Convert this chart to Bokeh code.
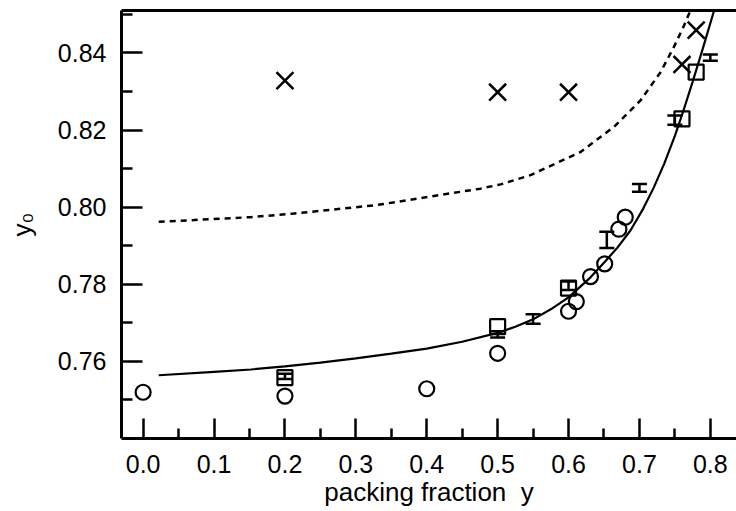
from bokeh.plotting import figure
from bokeh.models import (ColumnDataSource, FixedTicker, LinearAxis, Range1d,
                          Whisker, TeeHead, PrintfTickFormatter)
from bokeh.embed import file_html
from bokeh.resources import INLINE

# ---- data ----
circle_x = [0.0, 0.2, 0.4, 0.5, 0.6, 0.611, 0.631, 0.651, 0.671, 0.680]
circle_y = [0.7520, 0.7510, 0.7529, 0.7621, 0.7730, 0.7755, 0.7820, 0.7853, 0.7943, 0.7974]

square_x = [0.2, 0.5, 0.6, 0.76, 0.78]
square_y = [0.7558, 0.7690, 0.7790, 0.8229, 0.8350]

cross_x = [0.2, 0.5, 0.6, 0.76, 0.78]
cross_y = [0.8328, 0.8298, 0.8298, 0.8370, 0.8459]

err_x = [0.2, 0.5, 0.55, 0.6, 0.654, 0.70, 0.75, 0.80]
err_y = [0.7561, 0.7670, 0.7710, 0.7796, 0.7915, 0.8050, 0.8226, 0.8388]
err_e = [0.0007, 0.0008, 0.00125, 0.0011, 0.0021, 0.0010, 0.0012, 0.0008]

fit_x = [0.022, 0.10, 0.152, 0.2, 0.25, 0.3, 0.35, 0.4, 0.45, 0.5, 0.525, 0.55, 0.575,
         0.6, 0.631, 0.65, 0.669, 0.6875, 0.705, 0.72, 0.735, 0.75, 0.762, 0.775, 0.79,
         0.805, 0.81]
fit_y = [0.7564, 0.7573, 0.7579, 0.7587, 0.7597, 0.7608, 0.7620, 0.7633, 0.7651, 0.7674,
         0.7690, 0.7709, 0.7735, 0.7766, 0.7818, 0.7856, 0.7895, 0.7940, 0.7995, 0.8050,
         0.8113, 0.8185, 0.8250, 0.8325, 0.8415, 0.8508, 0.8540]

dash_x = [0.022, 0.1515, 0.21, 0.328, 0.4758, 0.5041, 0.5464, 0.6169, 0.6639, 0.7016,
          0.7298, 0.7485, 0.7626, 0.772, 0.776]
dash_y = [0.7962, 0.7974, 0.7983, 0.8005, 0.8048, 0.8059, 0.8083, 0.8143, 0.8208, 0.8277,
          0.8350, 0.8415, 0.8470, 0.8510, 0.8528]

x_ticks = [0.0, 0.1, 0.2, 0.3, 0.4, 0.5, 0.6, 0.7, 0.8]
x_minor = [0.05, 0.15, 0.25, 0.35, 0.45, 0.55, 0.65, 0.75]
y_ticks = [0.76, 0.78, 0.80, 0.82, 0.84]
y_minor = [0.75, 0.77, 0.79, 0.81, 0.83, 0.85]

x_label = "packing fraction\u00a0\u00a0y"
y_label = "y\u2080"

FONT = "Liberation Sans"
FS = "25px"
FS_LABEL = "26px"

p = figure(width=736, height=510, output_backend="svg", toolbar_location=None,
           x_range=Range1d(-0.0305, 0.8369), y_range=Range1d(0.74, 0.851),
           min_border_left=121, min_border_right=0, min_border_top=10,
           min_border_bottom=72)
p.outline_line_color = None
p.xgrid.grid_line_color = None
p.ygrid.grid_line_color = None
p.background_fill_color = "white"

for ax, ticks, minor, fmt in ((p.xaxis[0], x_ticks, x_minor, "%.1f"),
                              (p.yaxis[0], y_ticks, y_minor, "%.2f")):
    ax.ticker = FixedTicker(ticks=ticks, minor_ticks=minor)
    ax.formatter = PrintfTickFormatter(format=fmt)
    ax.axis_line_width = 3
    ax.axis_line_color = "black"
    ax.major_tick_line_width = 2.5
    ax.minor_tick_line_width = 2.5
    ax.major_tick_line_color = "black"
    ax.minor_tick_line_color = "black"
    ax.major_tick_out = 0
    ax.minor_tick_out = 0
    ax.major_label_text_font = FONT
    ax.major_label_text_font_size = FS
    ax.major_label_text_color = "black"
    ax.axis_label_text_font = FONT
    ax.axis_label_text_font_size = FS_LABEL
    ax.axis_label_text_font_style = "normal"
    ax.axis_label_text_color = "black"

p.xaxis.major_tick_in = 20
p.xaxis.minor_tick_in = 10
p.yaxis.major_tick_in = 21
p.yaxis.minor_tick_in = 11
p.xaxis.major_label_standoff = 16
p.yaxis.major_label_standoff = 15
p.xaxis.axis_label = x_label
p.yaxis.axis_label = y_label
p.xaxis.axis_label_standoff = 1
p.yaxis.axis_label_standoff = 18

top = LinearAxis(ticker=FixedTicker(ticks=[]), major_label_text_font_size="0px",
                 major_tick_line_color=None, minor_tick_line_color=None,
                 axis_line_width=3, major_tick_out=0, major_tick_in=0,
                 major_label_standoff=0)
p.add_layout(top, "above")

# curves
p.line(dash_x, dash_y, line_color="black", line_width=2.5, line_dash="6 5")
p.line(fit_x, fit_y, line_color="black", line_width=2.2)

# error bars
src_e = ColumnDataSource(dict(x=err_x,
                              lo=[c - e for c, e in zip(err_y, err_e)],
                              hi=[c + e for c, e in zip(err_y, err_e)]))
w = Whisker(source=src_e, base="x", lower="lo", upper="hi", dimension="height",
            line_color="black", line_width=2.5,
            lower_head=TeeHead(size=15, line_width=2.5, line_color="black"),
            upper_head=TeeHead(size=15, line_width=2.5, line_color="black"))
p.add_layout(w)

# markers
p.scatter(circle_x, circle_y, marker="circle", size=15, fill_color=None,
          line_color="black", line_width=2.2)
p.scatter(square_x, square_y, marker="square", size=15, fill_color=None,
          line_color="black", line_width=2.2)
p.scatter(cross_x, cross_y, marker="x", size=24, line_color="black", line_width=2.5)

open("out.html", "w").write(file_html(p, INLINE))
